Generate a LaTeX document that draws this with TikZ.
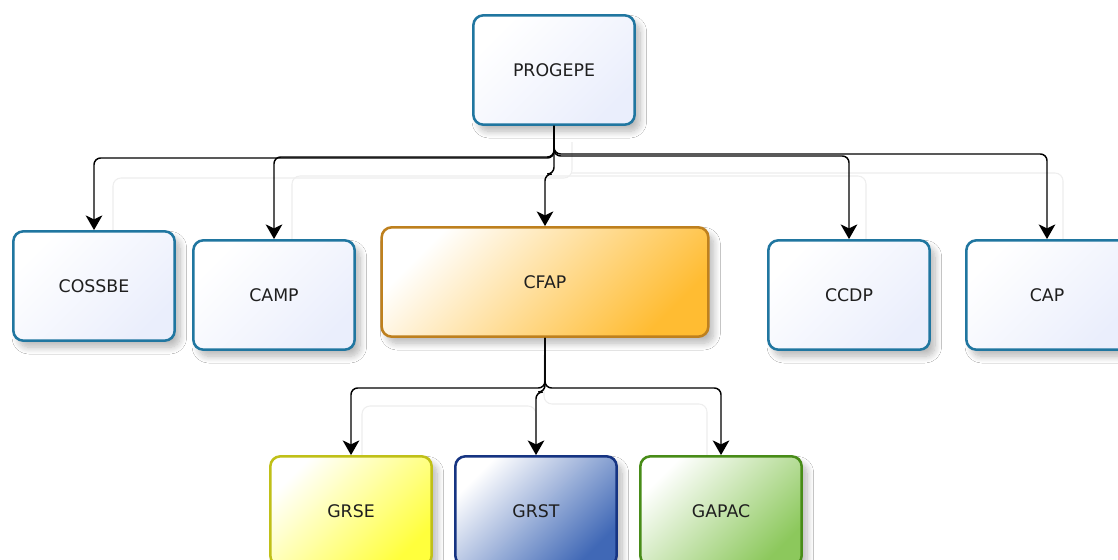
\documentclass[tikz,border=0pt]{standalone}
\usepackage{fontspec}
\setmainfont{DejaVu Sans}
\usetikzlibrary{arrows.meta,shadows.blur}

\definecolor{blueline}{RGB}{32,118,160}
\definecolor{bluefill}{RGB}{234,238,252}
\definecolor{orangeline}{RGB}{190,128,30}
\definecolor{orangefill}{RGB}{255,188,50}
\definecolor{yellowline}{RGB}{192,192,24}
\definecolor{yellowfill}{RGB}{255,255,60}
\definecolor{navyline}{RGB}{22,52,130}
\definecolor{navyfill}{RGB}{64,104,182}
\definecolor{greenline}{RGB}{72,140,24}
\definecolor{greenfill}{RGB}{140,200,92}
\definecolor{ghost}{RGB}{238,238,238}

\tikzset{
  unitbox/.style={rounded corners=7.5pt, line width=1.9pt,
    minimum width=121pt, minimum height=82pt,
    font=\fontsize{13}{15}\selectfont, text=black!88,
    blur shadow={shadow xshift=4pt, shadow yshift=-5pt,
      shadow blur radius=5pt, shadow blur steps=10, shadow opacity=28}},
  plainbox/.style={unitbox, draw=blueline, shading=axis,
    top color=white, bottom color=bluefill, shading angle=45},
  tintbox/.style={unitbox, draw=#1line, shading=axis,
    top color=white, bottom color=#1fill, shading angle=45},
  conn/.style={line width=1.1pt, rounded corners=5pt,
    -{Stealth[length=11pt,width=12.5pt,inset=3pt]}},
  ghostline/.style={draw=ghost, line width=0.8pt, rounded corners=6pt},
}

\begin{document}
\begin{tikzpicture}[x=0.75pt,y=-0.75pt]
\useasboundingbox (0,0) rectangle (1118,560);
\clip (0,0) rectangle (1118,560);
\fill[white] (0,0) rectangle (1118,560);

% faint guide lines behind the hierarchy
\draw[ghostline] (113,232) -- (113,178) -- (572,178) -- (572,142);
\draw[ghostline] (292,241) -- (292,176) -- (572,176);
\draw[ghostline] (866,240) -- (866,176) -- (572,176);
\draw[ghostline] (1063,240) -- (1063,173) -- (572,173);
\draw[ghostline] (362,456) -- (362,406) -- (536,406) -- (536,456);
\draw[ghostline] (707,456) -- (707,404) -- (544,404) -- (544,355);

% top level
\node[plainbox] (progepe) at (554,70) {PROGEPE};

% second level
\node[plainbox] (cossbe) at (94,286) {COSSBE};
\node[plainbox] (camp) at (274,295) {CAMP};
\node[tintbox=orange, minimum width=245pt] (cfap) at (545,282) {CFAP};
\node[plainbox] (ccdp) at (849,295) {CCDP};
\node[plainbox] (cap) at (1047,295) {CAP};

% third level
\node[tintbox=yellow] (grse) at (351,511) {GRSE};
\node[tintbox=navy] (grst) at (536,511) {GRST};
\node[tintbox=green] (gapac) at (721,511) {GAPAC};

% connectors from PROGEPE
\draw[conn] (progepe.south) -- (554,158) -| (cossbe.north);
\draw[conn] (progepe.south) -- (554,157) -| (camp.north);
\draw[conn] (progepe.south) -- (554,174) -| (cfap.north);
\draw[conn] (progepe.south) -- (554,156) -| (ccdp.north);
\draw[conn] (progepe.south) -- (554,154) -| (cap.north);

% connectors from CFAP
\draw[conn] (cfap.south) -- (545,388) -| (grse.north);
\draw[conn] (cfap.south) -- (545,392) -| (grst.north);
\draw[conn] (cfap.south) -- (545,388) -| (gapac.north);
\end{tikzpicture}
\end{document}
